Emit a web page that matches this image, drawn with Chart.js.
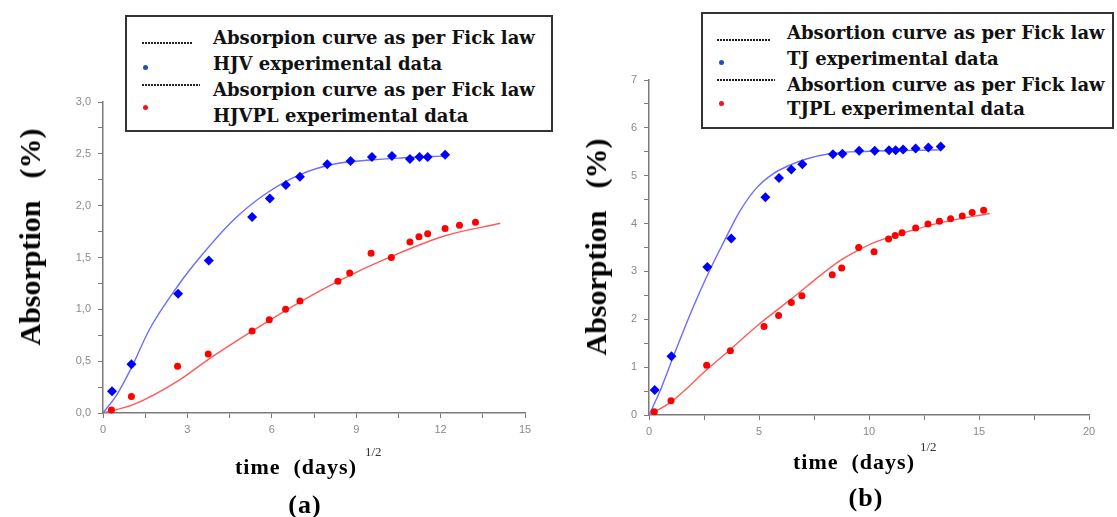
<!DOCTYPE html>
<html>
<head>
<meta charset="utf-8">
<script src="https://cdn.jsdelivr.net/npm/chart.js@4.4.1/dist/chart.umd.min.js"></script>
<style>
html, body { margin: 0; padding: 0; background: #fff; }
body { width: 1117px; height: 517px; position: relative; overflow: hidden; }
canvas { position: absolute; top: 0; }
#chartA { left: 0; }
#chartB { left: 560px; }
.box { position: absolute; border: 2px solid #333; box-sizing: border-box; background: #fff; }
.lg { position: absolute; font-family: "DejaVu Serif", serif; font-weight: bold; font-size: 18px; color: #111; white-space: nowrap; line-height: 20px; }
.sample { position: absolute; height: 2px; background: repeating-linear-gradient(90deg, #222 0 2px, transparent 2px 3px); }
.dot { position: absolute; width: 5px; height: 5px; border-radius: 50%; }
.ytitle { position: absolute; font-family: "Liberation Serif", "Times New Roman", serif; font-weight: bold; font-size: 30px; color: #000; white-space: nowrap; transform: translate(-50%, -50%) rotate(-90deg); }
.ytitle span { margin-left: 22px; }
.xtitle { position: absolute; font-family: "Liberation Serif", "Times New Roman", serif; font-weight: bold; font-size: 22px; letter-spacing: 1px; white-space: pre; line-height: 26px; transform: translateY(-50%); }
.sup { position: absolute; font-family: "Liberation Serif", serif; font-size: 13px; color: #333; line-height: 14px; transform: translateY(-50%); }
.tag { position: absolute; font-family: "Liberation Serif", "Times New Roman", serif; font-weight: bold; font-size: 26px; letter-spacing: 1px; line-height: 30px; transform: translate(-50%, -50%); }
</style>
</head>
<body>
<canvas id="chartA" width="560" height="517"></canvas>
<canvas id="chartB" width="557" height="517"></canvas>

<!-- legend (a) -->
<div class="box" style="left:125px;top:15px;width:428px;height:117px;"></div>
<div class="sample" style="left:142px;top:42px;width:51px;"></div>
<div class="dot" style="left:143px;top:65px;background:#1d55a6;"></div>
<div class="sample" style="left:142px;top:84px;width:58px;"></div>
<div class="dot" style="left:143px;top:105px;background:#ff1010;"></div>
<div class="lg" style="left:213px;top:28px;">Absorpion curve as per Fick law</div>
<div class="lg" style="left:213px;top:54px;">HJV experimental data</div>
<div class="lg" style="left:213px;top:80px;">Absorpion curve as per Fick law</div>
<div class="lg" style="left:213px;top:106px;">HJVPL experimental data</div>

<!-- legend (b) -->
<div class="box" style="left:701px;top:12px;width:413px;height:117px;"></div>
<div class="sample" style="left:717px;top:39px;width:53px;"></div>
<div class="dot" style="left:719px;top:60px;background:#1d55a6;"></div>
<div class="sample" style="left:717px;top:79px;width:58px;"></div>
<div class="dot" style="left:719px;top:101px;background:#ff1010;"></div>
<div class="lg" style="left:787px;top:23px;">Absortion curve as per Fick law</div>
<div class="lg" style="left:787px;top:49px;">TJ experimental data</div>
<div class="lg" style="left:787px;top:75px;">Absortion curve as per Fick law</div>
<div class="lg" style="left:787px;top:99px;">TJPL experimental data</div>

<!-- axis titles -->
<div class="ytitle" style="left:30px;top:237px;">Absorption<span>(%)</span></div>
<div class="ytitle" style="left:596px;top:247px;">Absorption<span>(%)</span></div>
<div class="xtitle" style="left:235px;top:467px;">time  (days)</div>
<div class="sup" style="left:365px;top:452px;">1/2</div>
<div class="xtitle" style="left:793px;top:462px;">time  (days)</div>
<div class="sup" style="left:920px;top:447px;">1/2</div>
<div class="tag" style="left:305px;top:505px;">(a)</div>
<div class="tag" style="left:866px;top:498px;">(b)</div>

<script>
// ---- chart (a): HJV / HJVPL ----
const hjvX = [0.32, 1.01, 2.67, 3.76, 5.30, 5.93, 6.50, 7.00, 7.97, 8.80, 9.56, 10.27, 10.91, 11.25, 11.54, 12.16];
const hjvY = [0.21, 0.47, 1.15, 1.47, 1.89, 2.07, 2.20, 2.28, 2.40, 2.43, 2.47, 2.48, 2.45, 2.47, 2.47, 2.49];
const hjvFickX = [0, 0.5, 1.0, 1.66, 2.67, 3.44, 4.63, 5.81, 7.0, 8.19, 9.5, 10.6, 12.16];
const hjvFickY = [0, 0.18, 0.43, 0.81, 1.23, 1.50, 1.86, 2.12, 2.30, 2.40, 2.44, 2.46, 2.48];

const hjvplX = [0.30, 1.01, 2.65, 3.74, 5.30, 5.91, 6.49, 7.00, 8.35, 8.77, 9.53, 10.25, 10.91, 11.23, 11.54, 12.16, 12.67, 13.24];
const hjvplY = [0.03, 0.16, 0.45, 0.57, 0.79, 0.90, 1.00, 1.08, 1.27, 1.35, 1.54, 1.50, 1.65, 1.70, 1.73, 1.78, 1.81, 1.84];
const hjvplFickX = [0, 1.07, 2.67, 3.76, 5.30, 7.0, 8.35, 10.25, 12.16, 14.12];
const hjvplFickY = [0, 0.08, 0.31, 0.52, 0.79, 1.07, 1.27, 1.51, 1.71, 1.83];

// ---- chart (b): TJ / TJPL ----
const tjX = [0.26, 1.02, 2.65, 3.74, 5.29, 5.91, 6.47, 6.97, 8.36, 8.79, 9.55, 10.26, 10.91, 11.21, 11.55, 12.12, 12.70, 13.26];
const tjY = [0.52, 1.23, 3.09, 3.69, 4.55, 4.95, 5.13, 5.24, 5.45, 5.46, 5.52, 5.52, 5.53, 5.53, 5.55, 5.57, 5.59, 5.61];
const tjFickX = [0, 0.5, 1.02, 1.85, 2.61, 3.36, 4.12, 4.88, 5.64, 6.4, 7.15, 8.2, 10, 12, 13.3];
const tjFickY = [0, 0.5, 1.12, 2.08, 2.88, 3.58, 4.25, 4.74, 5.04, 5.22, 5.35, 5.46, 5.51, 5.53, 5.54];

const tjplX = [0.24, 1.00, 2.62, 3.70, 5.23, 5.89, 6.47, 6.95, 8.33, 8.76, 9.53, 10.23, 10.89, 11.19, 11.50, 12.12, 12.68, 13.20, 13.71, 14.24, 14.69, 15.21];
const tjplY = [0.07, 0.30, 1.04, 1.34, 1.85, 2.08, 2.35, 2.49, 2.93, 3.07, 3.50, 3.41, 3.68, 3.75, 3.81, 3.91, 3.99, 4.05, 4.10, 4.16, 4.23, 4.28];
const tjplFickX = [0, 1.02, 2.61, 3.67, 4.88, 6.4, 8.67, 9.55, 10.23, 12.12, 13.26, 15.49];
const tjplFickY = [0, 0.28, 0.94, 1.36, 1.85, 2.40, 3.22, 3.45, 3.60, 3.88, 4.02, 4.21];

const BLUE = "#0000ff";
const RED = "#ff0000";
const BLUE_LINE = "#6c6cff";
const RED_LINE = "#ff5a5a";

function pts(xs, ys) {
  return xs.map((x, i) => ({ x: x, y: ys[i] }));
}

function curve(xs, ys, color) {
  return {
    data: pts(xs, ys),
    showLine: true,
    pointRadius: 0,
    borderColor: color,
    borderWidth: 1.4,
    cubicInterpolationMode: "monotone",
    order: 2,
  };
}

function marks(xs, ys, color, style, r) {
  return {
    data: pts(xs, ys),
    showLine: false,
    pointStyle: style,
    pointRadius: r,
    backgroundColor: color,
    borderColor: color,
    borderWidth: 0,
    clip: false,
    order: 1,
  };
}

function axis(c, dir) {
  return {
    type: "linear",
    min: c.min,
    max: c.max,
    afterFit: function (s) {
      if (dir === "x") s.height = 30;
      else s.width = 40;
    },
    border: { display: true, color: "#7a7a7a", width: 1.5 },
    grid: { display: true, drawOnChartArea: false, drawTicks: true, tickLength: 5, color: "#7a7a7a", tickWidth: 1 },
    ticks: {
      stepSize: c.step,
      autoSkip: false,
      maxRotation: 0,
      padding: dir === "x" ? 5 : 7,
      color: "#8a8a8a",
      font: { family: '"Liberation Sans", Arial, sans-serif', size: 11 },
      callback: c.label,
    },
  };
}

function makeChart(id, sets, xCfg, yCfg, pad) {
  return new Chart(document.getElementById(id), {
    type: "scatter",
    data: { datasets: sets },
    options: {
      responsive: false,
      animation: false,
      devicePixelRatio: 1,
      layout: { padding: pad },
      plugins: { legend: { display: false }, tooltip: { enabled: false } },
      scales: { x: axis(xCfg, "x"), y: axis(yCfg, "y") },
    },
  });
}

function every(n, fmt) {
  return function (v) {
    const k = v / n;
    return Math.abs(k - Math.round(k)) < 1e-6 ? fmt(v) : "";
  };
}

makeChart(
  "chartA",
  [
    marks(hjvX, hjvY, BLUE, "rectRot", 5),
    marks(hjvplX, hjvplY, RED, "circle", 3.5),
    curve(hjvFickX, hjvFickY, BLUE_LINE),
    curve(hjvplFickX, hjvplFickY, RED_LINE),
  ],
  { min: 0, max: 15, step: 1.5, label: every(3, (v) => String(Math.round(v))) },
  { min: 0, max: 3, step: 0.25, label: every(0.5, (v) => v.toFixed(1).replace(".", ",")) },
  { left: 63, right: 35, top: 102, bottom: 74 }
);

makeChart(
  "chartB",
  [
    marks(tjX, tjY, BLUE, "rectRot", 5),
    marks(tjplX, tjplY, RED, "circle", 3.5),
    curve(tjFickX, tjFickY, BLUE_LINE),
    curve(tjplFickX, tjplFickY, RED_LINE),
  ],
  { min: 0, max: 20, step: 2.5, label: every(5, (v) => String(Math.round(v))) },
  { min: 0, max: 7, step: 0.5, label: every(1, (v) => String(Math.round(v))) },
  { left: 49, right: 28, top: 80, bottom: 72 }
);
</script>
</body>
</html>
